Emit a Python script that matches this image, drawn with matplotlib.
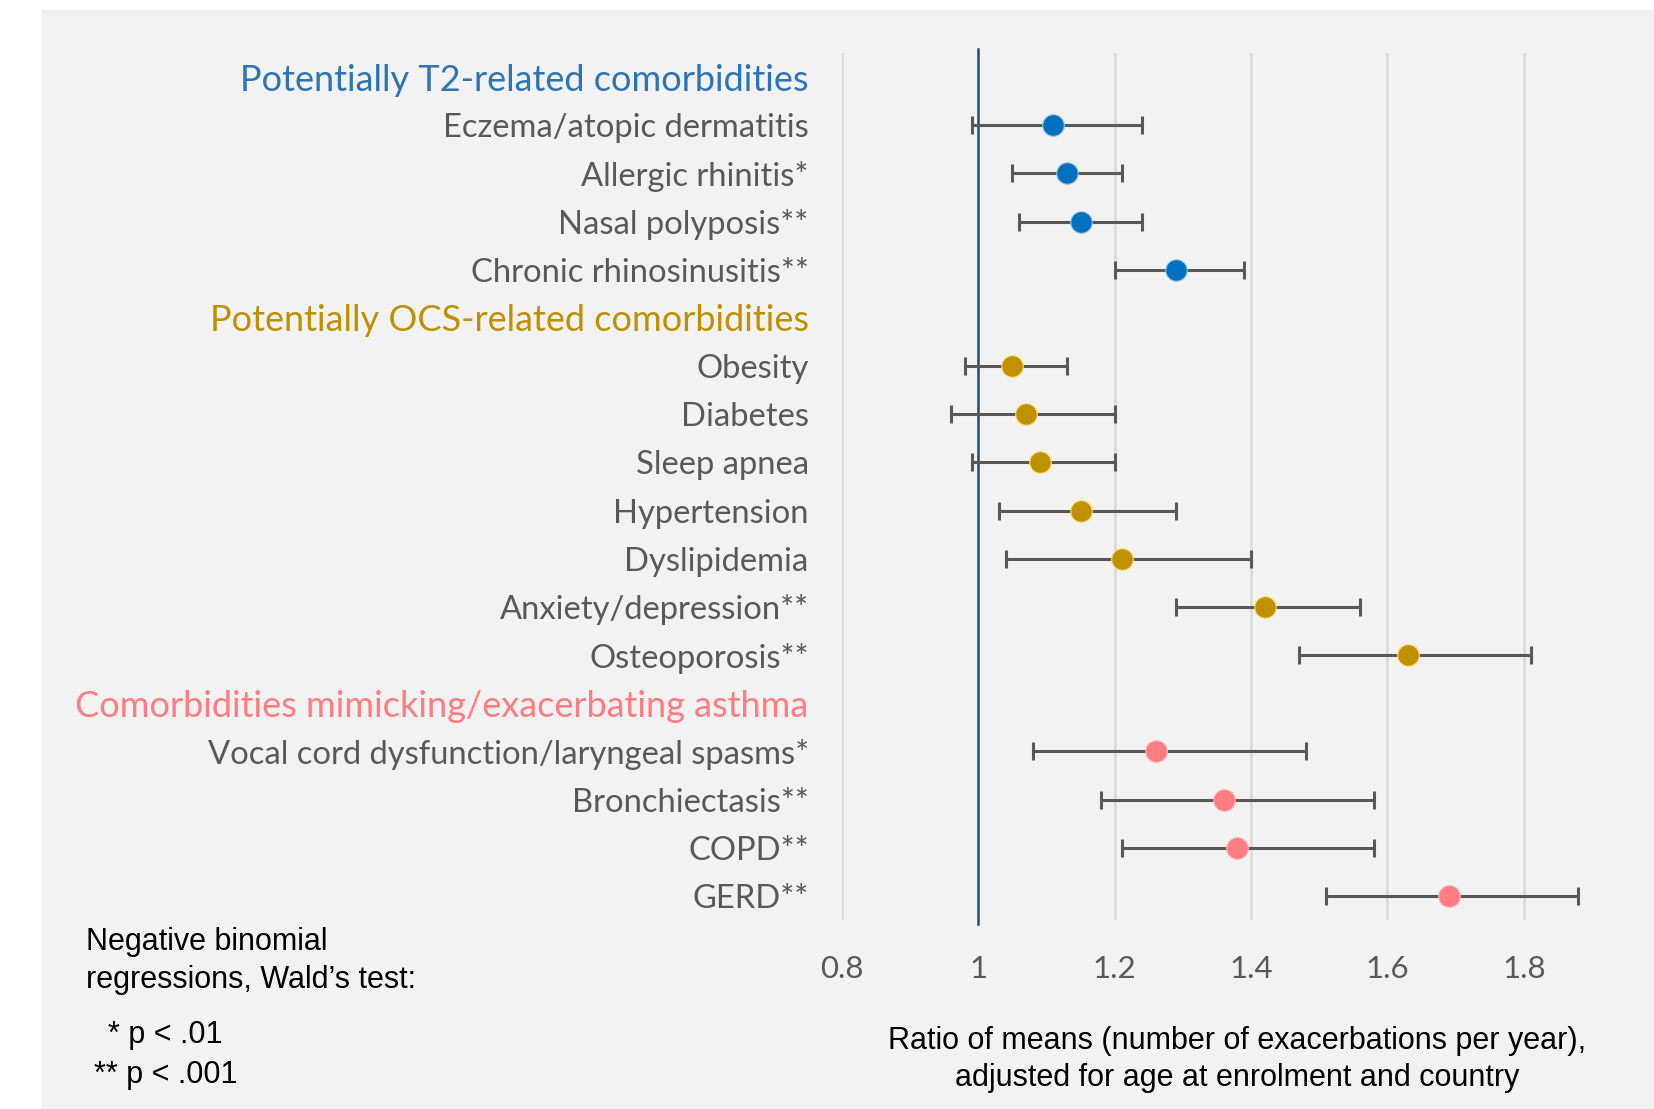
import matplotlib.pyplot as plt
import numpy as np

# Rows (top to bottom), headers included
rows = [
    "Potentially T2-related comorbidities",
    "Eczema/atopic dermatitis",
    "Allergic rhinitis*",
    "Nasal polyposis**",
    "Chronic rhinosinusitis**",
    "Potentially OCS-related comorbidities",
    "Obesity",
    "Diabetes",
    "Sleep apnea",
    "Hypertension",
    "Dyslipidemia",
    "Anxiety/depression**",
    "Osteoporosis**",
    "Comorbidities mimicking/exacerbating asthma",
    "Vocal cord dysfunction/laryngeal spasms*",
    "Bronchiectasis**",
    "COPD**",
    "GERD**",
]
headers = [0, 5, 13]

# Ratio of means with 95% CI, one entry per row (None for headers)
ratio = [None, 1.11, 1.13, 1.15, 1.29,
         None, 1.05, 1.07, 1.09, 1.15, 1.21, 1.42, 1.63,
         None, 1.26, 1.36, 1.38, 1.69]
ci_low = [None, 0.99, 1.05, 1.06, 1.20,
          None, 0.98, 0.96, 0.99, 1.03, 1.04, 1.29, 1.47,
          None, 1.08, 1.18, 1.21, 1.51]
ci_high = [None, 1.24, 1.21, 1.24, 1.39,
           None, 1.13, 1.20, 1.20, 1.29, 1.40, 1.56, 1.81,
           None, 1.48, 1.58, 1.58, 1.88]
group = [0, 0, 0, 0, 0,
         1, 1, 1, 1, 1, 1, 1, 1,
         2, 2, 2, 2, 2]

point_colors = ["#0070C0", "#BF9000", "#FF7C80"]
edge_colors = ["#9DC3E6", "#FFD966", "#FFB3B5"]
header_colors = ["#2E75B6", "#BF9000", "#FF7C80"]
label_color = "#595959"
bg = "#F2F2F2"

fig = plt.figure(figsize=(16.54, 11.09), dpi=100)
# grey panel behind everything
fig.patches.append(plt.Rectangle((42 / 1654, 0.0), 1.0, 1 - 10 / 1109,
                                 transform=fig.transFigure, color=bg, zorder=-10))

ax = fig.add_axes([842 / 1654, 1 - 920 / 1109, (1592 - 842) / 1654, (920 - 53) / 1109])
ax.set_zorder(5)
ax.set_facecolor("none")
for s in ax.spines.values():
    s.set_visible(False)

ax.set_xlim(0.8, 1.9)
ax.set_ylim(len(rows) - 0.5, -0.5)
ticks = [0.8, 1.0, 1.2, 1.4, 1.6, 1.8]
ax.set_xticks(ticks)
ax.set_xticklabels(["0.8", "1", "1.2", "1.4", "1.6", "1.8"])
for t in ticks:
    if t != 1.0:
        ax.axvline(t, color="#D9D9D9", lw=1.8, zorder=1)
ax.axvline(1.0, ymin=-0.005, ymax=1.005, color="#1F4E79", lw=1.8, zorder=2, clip_on=False)

for i in range(len(rows)):
    if ratio[i] is None:
        continue
    g = group[i]
    ax.errorbar(ratio[i], i,
                xerr=[[ratio[i] - ci_low[i]], [ci_high[i] - ratio[i]]],
                fmt="none", ecolor=label_color, elinewidth=2.2,
                capsize=6.5, capthick=2.2, zorder=3)
    ax.plot(ratio[i], i, "o", ms=15.5, color=point_colors[g],
            mec=edge_colors[g], mew=0.8, zorder=4)

ax.set_yticks(range(len(rows)))
ax.set_yticklabels(rows)
ax.tick_params(axis="y", length=0, pad=24)
ax.tick_params(axis="x", length=0, pad=25, labelsize=22.5, labelcolor=label_color)
for t in ax.get_xticklabels():
    t.set_fontfamily("Lato")
hi = 0
for i, t in enumerate(ax.get_yticklabels()):
    t.set_fontfamily("Lato")
    if i in headers:
        t.set_color(header_colors[hi])
        t.set_fontsize(26)
        hi += 1
    else:
        t.set_color(label_color)
        t.set_fontsize(23.6)

# x-axis caption
cap = dict(ha="center", va="center", fontsize=22, family="Liberation Sans", color="black")
fig.text(1237 / 1654, 1 - 1041 / 1109,
         "Ratio of means (number of exacerbations per year),", **cap)
fig.text(1237 / 1654, 1 - 1078 / 1109,
         "adjusted for age at enrolment and country", **cap)

# footnote
foot = dict(fontsize=22, family="Liberation Sans", color="black", va="center", ha="left")
fig.text(86 / 1654, 1 - 942 / 1109, "Negative binomial", **foot)
fig.text(86 / 1654, 1 - 980 / 1109, "regressions, Wald\u2019s test:", **foot)
fig.text(108 / 1654, 1 - 1035 / 1109, "* p < .01", **foot)
fig.text(94 / 1654, 1 - 1075 / 1109, "** p < .001", **foot)

fig.savefig("out.png", dpi=100, facecolor="white")
